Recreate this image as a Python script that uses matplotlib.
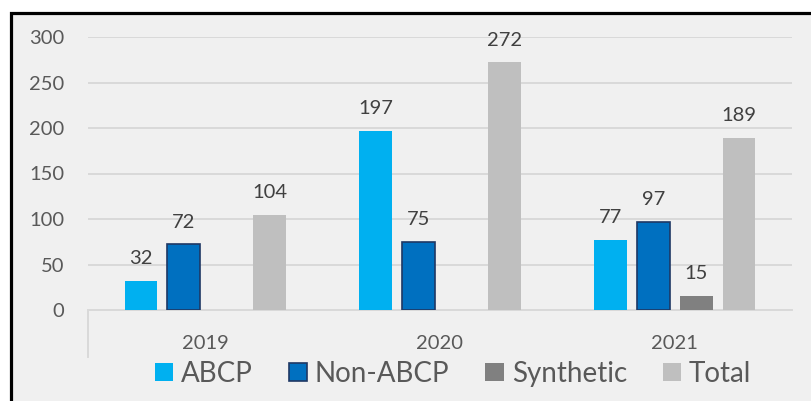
import numpy as np
import matplotlib.pyplot as plt
from matplotlib.patches import Rectangle

years = ['2019', '2020', '2021']
series = ['ABCP', 'Non-ABCP', 'Synthetic', 'Total']
abcp = [32, 197, 77]
non_abcp = [72, 75, 97]
synthetic = [0, 0, 15]
total = [104, 272, 189]

colors = ['#00B0F0', '#0070C0', '#808080', '#BFBFBF']
edges = ['#00B0F0', '#1F3864', '#808080', '#BFBFBF']
offsets = [-0.274, -0.0915, 0.0915, 0.274]

plt.rcParams['font.family'] = ['Lato', 'DejaVu Sans']

fig = plt.figure(figsize=(8.12, 4.01), dpi=100)
fig.patch.set_facecolor('white')
# chart frame: grey panel with black border on top/left
fig.patches.append(Rectangle((11.5 / 812, -0.05), 1.0, (401 - 13) / 401 + 0.05,
                             transform=fig.transFigure, facecolor='#F0F0F0',
                             edgecolor='black', linewidth=2.3, zorder=-10))

ax = fig.add_axes([88 / 812, 1 - 310 / 401, 704 / 812, 273 / 401])
ax.set_facecolor('none')

x = np.arange(len(years))
values = [abcp, non_abcp, synthetic, total]
for vals, name, c, e, off in zip(values, series, colors, edges, offsets):
    lw = 1.2 if name == 'Non-ABCP' else 0
    bars = ax.bar(x + off, vals, width=0.14, color=c, edgecolor=e, linewidth=lw,
                  label=name, zorder=3)
    for b, v in zip(bars, vals):
        if v == 0:
            continue
        ax.annotate(str(v), (b.get_x() + b.get_width() / 2, v), xytext=(0, 10),
                    textcoords='offset points', ha='center', va='bottom',
                    fontsize=14.5, color='#404040')

ax.set_xlim(-0.5, 2.5)
ax.set_ylim(0, 300)
ax.set_yticks(range(0, 301, 50))
ax.set_xticks(x)
ax.set_xticklabels(years)
ax.tick_params(axis='y', length=0, pad=17, labelsize=14.5, labelcolor='#595959')
ax.tick_params(axis='x', length=0, pad=18, labelsize=14.5, labelcolor='#595959')
ax.grid(axis='y', color='#D9D9D9', linewidth=1.4, zorder=0)
for s in ['top', 'right', 'left']:
    ax.spines[s].set_visible(False)
ax.spines['bottom'].set_color('#D9D9D9')
ax.spines['bottom'].set_linewidth(1.4)
ax.spines['bottom'].set_zorder(2)
# long tick mark on the left edge of the category axis
ax.plot([-0.5, -0.5], [0, -0.172], transform=ax.get_xaxis_transform(),
        color='#D9D9D9', linewidth=1.4, clip_on=False)

fig.legend(loc='center', bbox_to_anchor=(453 / 812, 1 - 374 / 401), ncol=4,
           frameon=False, fontsize=20, labelcolor='#595959', handlelength=0.65,
           handleheight=0.62, handletextpad=0.29, columnspacing=1.3)

fig.savefig('out.png', dpi=100)
